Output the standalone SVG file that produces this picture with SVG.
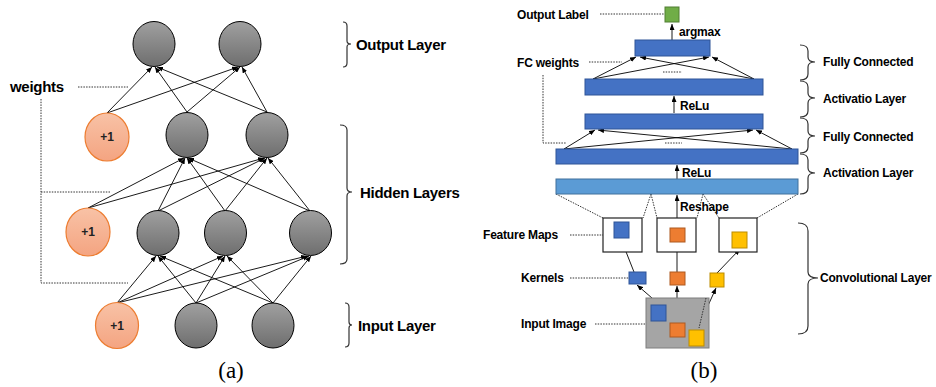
<svg xmlns="http://www.w3.org/2000/svg" width="936" height="387" viewBox="0 0 936 387">
<style>
.lbl{font-family:"Liberation Sans",Arial,sans-serif;font-weight:bold;fill:#000}
.big{font-size:15px;letter-spacing:-0.3px}
.sm{font-size:12px;letter-spacing:-0.2px}
.one{font-family:"Liberation Sans",Arial,sans-serif;font-weight:bold;font-size:12px;fill:#222;text-anchor:middle}
.cap{font-family:"Liberation Serif","Times New Roman",serif;font-size:23px;fill:#000;text-anchor:middle}
.gray{fill:url(#gg);stroke:#000;stroke-width:1}
.bias{fill:url(#og);stroke:#ed7d31;stroke-width:1.2}
.edge{stroke:#000;stroke-width:0.9;fill:none;marker-end:url(#ah)}
.dot{stroke:#333;stroke-width:1;fill:none;stroke-dasharray:1.5 1.2}
.brk{stroke:#333;stroke-width:1.2;fill:none}
.blue{fill:#4472c4;stroke:#2f5597;stroke-width:1}
.lblue{fill:#5b9bd5;stroke:#41719c;stroke-width:1}
.org{fill:#ed7d31;stroke:#ae5a21;stroke-width:1}
.yel{fill:#ffc000;stroke:#bc8c00;stroke-width:1}
.fm{fill:#fff;stroke:#222;stroke-width:1.2}
</style>
<defs>
<linearGradient id="gg" x1="0" y1="0" x2="0" y2="1">
<stop offset="0" stop-color="#a0a0a0"/><stop offset="1" stop-color="#6e6e6e"/>
</linearGradient>
<linearGradient id="og" x1="0" y1="0" x2="0" y2="1">
<stop offset="0" stop-color="#f8c2a6"/><stop offset="1" stop-color="#f4a481"/>
</linearGradient>
<marker id="ah" markerUnits="userSpaceOnUse" markerWidth="6" markerHeight="5" refX="6" refY="2.5" orient="auto">
<path d="M0,0 L6,2.5 L0,5 z" fill="#000"/>
</marker>
</defs>

<!-- (a) connectors -->
<g id="connectors-a">
<line class="edge" x1="107" y1="113" x2="152" y2="67"/>
<line class="edge" x1="107" y1="113" x2="238" y2="67"/>
<line class="edge" x1="187" y1="112" x2="155" y2="67"/>
<line class="edge" x1="187" y1="112" x2="240" y2="67"/>
<line class="edge" x1="267" y1="112" x2="157" y2="67"/>
<line class="edge" x1="267" y1="112" x2="242" y2="67"/>

<line class="edge" x1="88" y1="208" x2="184" y2="158"/>
<line class="edge" x1="88" y1="208" x2="264" y2="158"/>
<line class="edge" x1="158" y1="211" x2="185" y2="158"/>
<line class="edge" x1="158" y1="211" x2="265" y2="158"/>
<line class="edge" x1="225" y1="211" x2="187" y2="158"/>
<line class="edge" x1="225" y1="211" x2="267" y2="158"/>
<line class="edge" x1="310" y1="211" x2="188" y2="158"/>
<line class="edge" x1="310" y1="211" x2="268" y2="158"/>

<line class="edge" x1="117" y1="303" x2="156" y2="256"/>
<line class="edge" x1="117" y1="303" x2="223" y2="256"/>
<line class="edge" x1="117" y1="303" x2="307" y2="256"/>
<line class="edge" x1="196" y1="303" x2="158" y2="256"/>
<line class="edge" x1="196" y1="303" x2="225" y2="256"/>
<line class="edge" x1="196" y1="303" x2="309" y2="256"/>
<line class="edge" x1="273" y1="303" x2="160" y2="256"/>
<line class="edge" x1="273" y1="303" x2="227" y2="256"/>
<line class="edge" x1="273" y1="303" x2="311" y2="256"/>

<path class="dot" d="M78,87 H128"/>
<path class="dot" d="M41,99 V283 H128"/>
<path class="dot" d="M41,192 H110"/>
</g>

<!-- (a) nodes -->
<g id="out1"><ellipse class="gray" cx="154" cy="44" rx="21" ry="22.5"/></g>
<g id="out2"><ellipse class="gray" cx="240" cy="44" rx="21" ry="22.5"/></g>
<g id="bias-h2"><ellipse class="bias" cx="107" cy="137" rx="22" ry="24"/><text class="one" x="107" y="141">+1</text></g>
<g id="h2a"><ellipse class="gray" cx="187" cy="135" rx="21" ry="22.5"/></g>
<g id="h2b"><ellipse class="gray" cx="267" cy="135" rx="21" ry="22.5"/></g>
<g id="bias-h1"><ellipse class="bias" cx="88" cy="232" rx="22" ry="24"/><text class="one" x="88" y="236">+1</text></g>
<g id="h1a"><ellipse class="gray" cx="158" cy="233" rx="21" ry="22.5"/></g>
<g id="h1b"><ellipse class="gray" cx="225.5" cy="233" rx="21" ry="22.5"/></g>
<g id="h1c"><ellipse class="gray" cx="310.5" cy="233" rx="21" ry="22.5"/></g>
<g id="bias-in"><ellipse class="bias" cx="117" cy="325.5" rx="21.5" ry="23"/><text class="one" x="117" y="330">+1</text></g>
<g id="in1"><ellipse class="gray" cx="196" cy="325.5" rx="21" ry="22.5"/></g>
<g id="in2"><ellipse class="gray" cx="273" cy="325.5" rx="21" ry="22.5"/></g>

<!-- (a) labels and brackets -->
<g id="labels-a">
<text class="lbl big" x="10" y="92">weights</text>
<path class="brk" d="M343,22 Q347,22 347,26 V41 Q347,44 351,44 Q347,44 347,47 V63 Q347,67 343,67"/>
<text class="lbl big" x="356" y="50">Output Layer</text>
<path class="brk" d="M340,125 Q347,125 347,130 V188 Q347,192 352,192 Q347,192 347,196 V259 Q347,264 340,264"/>
<text class="lbl big" x="360" y="198">Hidden Layers</text>
<path class="brk" d="M345,303 Q349,303 349,307 V322 Q349,325 352,325 Q349,325 349,328 V343 Q349,347 345,347"/>
<text class="lbl big" x="358" y="331">Input Layer</text>
<text class="cap" x="231" y="378">(a)</text>
</g>

<!-- (b) connectors -->
<g id="connectors-b">
<line class="edge" x1="672" y1="40" x2="672" y2="24"/>
<line class="edge" x1="593" y1="79" x2="636" y2="57"/>
<line class="edge" x1="593" y1="79" x2="709" y2="57"/>
<line class="edge" x1="754" y1="79" x2="640" y2="57"/>
<line class="edge" x1="754" y1="79" x2="712" y2="57"/>
<path class="dot" d="M663,72 H682"/>
<line class="edge" x1="674" y1="113" x2="674" y2="96"/>
<line class="edge" x1="564" y1="149" x2="595" y2="130"/>
<line class="edge" x1="564" y1="149" x2="753" y2="130"/>
<line class="edge" x1="792" y1="149" x2="598" y2="130"/>
<line class="edge" x1="792" y1="149" x2="756" y2="130"/>
<path class="dot" d="M665,143 H682"/>
<line class="edge" x1="677" y1="179" x2="677" y2="165"/>
<line class="edge" x1="677" y1="218" x2="677" y2="195"/>
<path class="dot" d="M556,194 L603,218 M651,194 L643,218 M651,194 L657,218 M703,194 L697,218 M703,194 L719,218 M798,194 L757,218"/>
<line class="edge" x1="634" y1="272" x2="621" y2="239"/>
<line class="edge" x1="677" y1="272" x2="677" y2="243"/>
<line class="edge" x1="717" y1="273" x2="740" y2="249"/>
<line class="edge" x1="660" y1="305" x2="637" y2="285"/>
<line class="edge" x1="677" y1="323" x2="677" y2="286"/>
<line class="edge" x1="697" y1="330" x2="716" y2="288"/>
<path class="dot" d="M600,14 H664"/>
<path class="dot" d="M589,62 H622"/>
<path class="dot" d="M543,75 V143 H566"/>
<path class="dot" d="M570,235 H603"/>
<path class="dot" d="M570,278 H629"/>
<path class="dot" d="M595,324 H646"/>
</g>

<!-- (b) nodes -->
<g id="output-label"><rect x="665" y="7" width="14" height="15" fill="#70ad47" stroke="#507e32" stroke-width="1"/></g>
<g id="fc-out"><rect class="blue" x="635" y="40" width="75" height="16"/></g>
<g id="act1"><rect class="blue" x="585" y="79" width="178" height="16"/></g>
<g id="fc1"><rect class="blue" x="585" y="114" width="178" height="15"/></g>
<g id="act2"><rect class="blue" x="556" y="149" width="242" height="15"/></g>
<g id="flat"><rect class="lblue" x="556" y="179" width="242" height="15"/></g>
<g id="fmap1"><rect class="fm" x="603" y="218" width="39" height="34"/><rect class="blue" x="614" y="222" width="15" height="16"/></g>
<g id="fmap2"><rect class="fm" x="657" y="218" width="39" height="34"/><rect class="org" x="670" y="228" width="15" height="14"/></g>
<g id="fmap3"><rect class="fm" x="719" y="218" width="38" height="34" stroke="#7f7f7f"/><rect class="yel" x="732" y="232" width="15" height="16"/></g>
<g id="kernel1"><rect class="blue" x="629" y="272" width="17" height="12"/></g>
<g id="kernel2"><rect class="org" x="670" y="272" width="15" height="13"/></g>
<g id="kernel3"><rect class="yel" x="710" y="273" width="14" height="14"/></g>
<g id="input-image">
<rect x="646" y="298" width="63" height="50" fill="#a5a5a5" stroke="#7f7f7f" stroke-width="1"/>
<rect class="blue" x="651" y="305" width="15" height="16"/>
<rect class="org" x="670" y="323" width="15" height="14"/>
<rect class="yel" x="689" y="330" width="15" height="16"/>
<path class="dot" d="M706,298 L699,328"/>
</g>

<!-- (b) labels and brackets -->
<g id="labels-b">
<text class="lbl sm" x="517" y="19">Output Label</text>
<text class="lbl sm" x="679" y="36">argmax</text>
<text class="lbl sm" x="517" y="67">FC weights</text>
<text class="lbl sm" x="680" y="110">ReLu</text>
<text class="lbl sm" x="682" y="177">ReLu</text>
<text class="lbl sm" x="680" y="211">Reshape</text>
<text class="lbl sm" x="483" y="239">Feature Maps</text>
<text class="lbl sm" x="521" y="282">Kernels</text>
<text class="lbl sm" x="521" y="328">Input Image</text>
<path class="brk" d="M800,45 Q808,45 808,51 V57 Q808,62 815,62 Q808,62 808,67 V74 Q808,80 800,80"/>
<text class="lbl sm" x="823" y="66">Fully Connected</text>
<path class="brk" d="M800,81 Q808,81 808,87 V93 Q808,98 815,98 Q808,98 808,103 V111 Q808,117 800,117"/>
<text class="lbl sm" x="823" y="103">Activatio Layer</text>
<path class="brk" d="M800,118 Q808,118 808,124 V131 Q808,136 815,136 Q808,136 808,141 V147 Q808,153 800,153"/>
<text class="lbl sm" x="823" y="141">Fully Connected</text>
<path class="brk" d="M800,154 Q808,154 808,160 V168 Q808,173 815,173 Q808,173 808,178 V188 Q808,194 800,194"/>
<text class="lbl sm" x="823" y="177">Activation Layer</text>
<path class="brk" d="M798,223 Q808,223 808,231 V272 Q808,278 818,278 Q808,278 808,284 V326 Q808,334 798,334"/>
<text class="lbl sm" x="820" y="282">Convolutional Layer</text>
<text class="cap" x="704" y="378">(b)</text>
</g>
</svg>
